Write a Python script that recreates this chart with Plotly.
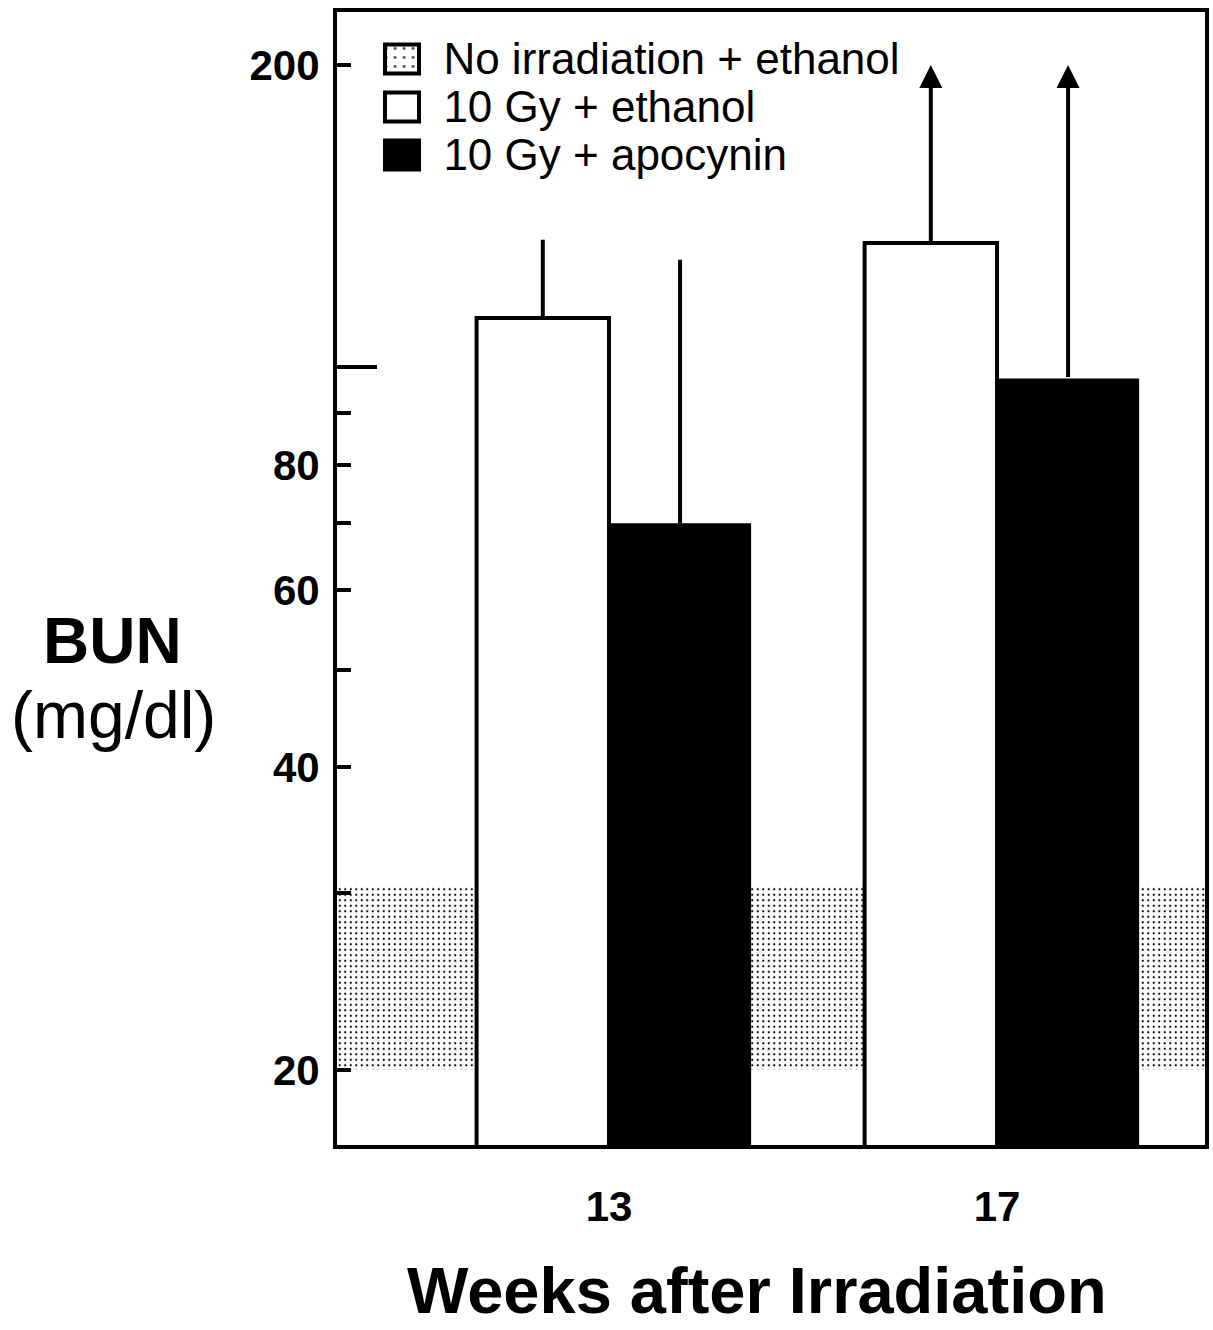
import math
import plotly.graph_objects as go

# ---------------- data ----------------
weeks = [13, 17]
week_labels = ["13", "17"]
ethanol_10gy_mean = [112, 133]
ethanol_10gy_upper = [134, None]     # None -> error off-scale (arrow)
apocynin_10gy_mean = [70, 97.5]
apocynin_10gy_upper = [128, None]    # None -> error off-scale (arrow)
offscale_top = 200                    # arrows point up to the top tick
normal_range = [20, 30.5]             # No irradiation + ethanol (band)
legend_labels = ["No irradiation + ethanol", "10 Gy + ethanol", "10 Gy + apocynin"]
y_tickvals = [20, 30, 40, 50, 60, 70, 80, 90, 200]
y_ticktext = ["20", "", "40", "", "60", "", "80", "", "200"]
y_long_tick = [100]

# ---------------- layout constants ----------------
W, H = 1213, 1330
PL, PR, PT, PB = 337, 1205, 12, 1145   # plot area in pixels
ML, MR, MT, MB = PL, W - PR, PT, H - PB
PW, PH = PR - PL, PB - PT
X_RANGE = [10.196, 19.144]
Y_RANGE = [1.2263, 2.3537]
W_WHITE = 1.365
W_BLACK = 1.465
FONT = "Liberation Sans, Arial, Helvetica, sans-serif"


def px_x(p):
    return (p - PL) / PW


def px_y(p):
    return (PB - p) / PH


def err(upper, mean):
    return [(u - m) if u is not None else 0 for u, m in zip(upper, mean)]


fig = go.Figure()

# normal-range band (dotted)
fig.add_trace(go.Bar(
    x=[(X_RANGE[0] + X_RANGE[1]) / 2],
    y=[normal_range[1] - normal_range[0]],
    base=[normal_range[0]],
    width=[X_RANGE[1] - X_RANGE[0]],
    marker=dict(color="white", line=dict(width=0),
                pattern=dict(shape=".", fillmode="overlay", fgcolor="black",
                             fgopacity=1, size=5.5, solidity=0.12)),
    showlegend=False, hoverinfo="skip", name=legend_labels[0]))

# 10 Gy + ethanol (white)
fig.add_trace(go.Bar(
    x=weeks, y=ethanol_10gy_mean, width=W_WHITE, offset=-W_WHITE,
    marker=dict(color="white", line=dict(color="black", width=4)),
    error_y=dict(type="data", symmetric=False,
                 array=err(ethanol_10gy_upper, ethanol_10gy_mean),
                 arrayminus=[0] * len(weeks),
                 color="black", thickness=4, width=0),
    showlegend=False, name=legend_labels[1]))

# 10 Gy + apocynin (black)
fig.add_trace(go.Bar(
    x=weeks, y=apocynin_10gy_mean, width=W_BLACK, offset=0,
    marker=dict(color="black", line=dict(color="black", width=0)),
    error_y=dict(type="data", symmetric=False,
                 array=err(apocynin_10gy_upper, apocynin_10gy_mean),
                 arrayminus=[0] * len(weeks),
                 color="black", thickness=4, width=0),
    showlegend=False, name=legend_labels[2]))

# off-scale error arrows
for wk, m, u, dx in [(w, m, u, -W_WHITE / 2) for w, m, u in zip(weeks, ethanol_10gy_mean, ethanol_10gy_upper)] + \
                    [(w, m, u, W_BLACK / 2) for w, m, u in zip(weeks, apocynin_10gy_mean, apocynin_10gy_upper)]:
    if u is None:
        xc = wk + dx
        fig.add_annotation(x=xc, y=math.log10(offscale_top), ax=xc, ay=math.log10(m),
                           xref="x", yref="y", axref="x", ayref="y",
                           showarrow=True, arrowhead=2, arrowsize=1.15, arrowwidth=4,
                           arrowcolor="black", text="", standoff=0, startstandoff=0)

# legend swatches in a small inset axis, labels as its tick labels
fig.add_trace(go.Bar(
    x=[1, 1, 1], y=legend_labels, orientation="h", width=0.6,
    xaxis="x2", yaxis="y2",
    marker=dict(color=["white", "white", "black"],
                line=dict(color="black", width=4),
                pattern=dict(shape=[".", "", ""], fillmode="overlay", fgcolor="black",
                             fgopacity=1, size=9, solidity=0.08)),
    showlegend=False, hoverinfo="skip"))

fig.update_layout(
    template="none",
    width=W, height=H, autosize=False,
    margin=dict(l=ML, r=MR, t=MT, b=MB, pad=0, autoexpand=False),
    paper_bgcolor="white", plot_bgcolor="white",
    barmode="overlay", showlegend=False,
    font=dict(family=FONT, color="black"),
    xaxis=dict(range=X_RANGE, tickmode="array", tickvals=weeks, ticktext=week_labels,
               ticks="", showline=True, mirror=True, linewidth=4, linecolor="black",
               showgrid=False, zeroline=False, automargin=False,
               tickfont=dict(size=42, weight="bold", family=FONT, color="black"),
               ticklabelstandoff=22),
    yaxis=dict(type="log", range=Y_RANGE, tickmode="array", tickvals=y_tickvals,
               ticktext=y_ticktext, ticks="inside", ticklen=14, tickwidth=4,
               tickcolor="black", showline=True, mirror=True, linewidth=4,
               linecolor="black", showgrid=False, zeroline=False, automargin=False,
               minor=dict(tickmode="array", tickvals=y_long_tick, ticks="inside",
                          ticklen=40, tickwidth=4, tickcolor="black", showgrid=False),
               tickfont=dict(size=42, weight="bold", family=FONT, color="black"),
               ticklabelstandoff=5),
    xaxis2=dict(domain=[px_x(381.6), px_x(422.4)], range=[-0.1, 1.1], visible=False,
                anchor="y2", fixedrange=True, automargin=False),
    yaxis2=dict(domain=[px_y(179), px_y(35)], anchor="x2", type="category",
                categoryorder="array", categoryarray=legend_labels, range=[2.5, -0.5],
                tickmode="array", tickvals=legend_labels, ticktext=legend_labels,
                side="right", showline=False, ticks="", showgrid=False, zeroline=False,
                tickfont=dict(size=44, family=FONT, color="black"), automargin=False,
                ticklabelstandoff=20, fixedrange=True),
)

fig.add_annotation(text="<b>BUN</b>", x=px_x(112), y=px_y(641), xref="paper", yref="paper",
                   showarrow=False, xanchor="center", yanchor="middle",
                   font=dict(size=64, family=FONT, color="black"))
fig.add_annotation(text="(mg/dl)", x=px_x(113), y=px_y(715), xref="paper", yref="paper",
                   showarrow=False, xanchor="center", yanchor="middle",
                   font=dict(size=66, family=FONT, color="black"))
fig.add_annotation(text="<b>Weeks after Irradiation</b>", x=px_x(757), y=px_y(1329),
                   xref="paper", yref="paper", showarrow=False,
                   xanchor="center", yanchor="bottom",
                   font=dict(size=65, family=FONT, color="black"))

fig.write_html("out.html", config={"displayModeBar": False, "responsive": False},
               post_script="document.body.style.margin='0px';")
